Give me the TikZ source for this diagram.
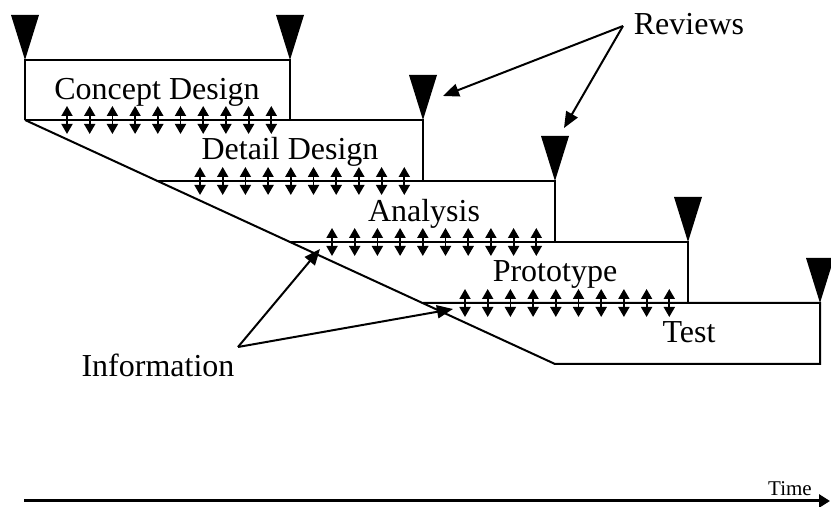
\documentclass[tikz,border=0pt]{standalone}
\usepackage{fontspec}
\setmainfont{Liberation Serif}
\usetikzlibrary{arrows.meta}
\begin{document}
\begin{tikzpicture}[x=0.5pt,y=-0.5pt,
  outline/.style={line width=1pt, line join=miter},
  review/.style={fill=black},
  exchange/.style={line width=0.9pt,
    {Triangle[length=5pt,width=5.5pt]}-{Triangle[length=5pt,width=5.5pt]}},
  pointer/.style={line width=1pt, -{Triangle[length=8pt,width=6.5pt]}},
  phase/.style={font=\fontsize{16}{19}\selectfont, inner sep=0pt, anchor=base},
  timeaxis/.style={line width=1.5pt, -{Triangle[length=5.5pt,width=6.5pt]}}]
  \useasboundingbox (0,0) rectangle (831,507);

  % staircase of overlapping phases
  \draw[outline] (25,120) -- (25,60) -- (290,60) -- (290,120);
  \draw[outline] (25,120) -- (423,120) -- (423,181);
  \draw[outline] (158,181) -- (555,181) -- (555,242);
  \draw[outline] (290,242) -- (688,242) -- (688,303);
  \draw[outline] (423,303) -- (820,303) -- (820,364) -- (555,364) -- (25,120);

  % review milestones
  \foreach \x/\y in {25/60, 290/60, 423/120, 555/181, 688/242, 820/303}
    \fill[review] (\x,\y) -- (\x-14,\y-45) -- (\x+14,\y-45) -- cycle;

  % information exchange between successive phases
  \foreach \cx/\y in {25/120, 158/181, 290/242, 423/303}
    \foreach \i in {0,...,9}
      \draw[exchange] ({\cx+42+\i*22.7},\y-14) -- ({\cx+42+\i*22.7},\y+14);

  % phase names
  \node[phase] (concept) at (157,100) {Concept Design};
  \node[phase] (detail) at (290,160) {Detail Design};
  \node[phase] (analysis) at (424,222) {Analysis};
  \node[phase] (proto) at (555,282) {Prototype};
  \node[phase] (test) at (689,343) {Test};

  % callouts
  \node[phase] (reviews) at (689,35) {Reviews};
  \node[phase] (info) at (158,377) {Information};
  \coordinate (revfrom) at (623,26);
  \coordinate (revA) at (443,96);
  \coordinate (revB) at (564,128);
  \coordinate (infofrom) at (238,347);
  \coordinate (infoA) at (320,249);
  \coordinate (infoB) at (453,309);
  \draw[pointer] (revfrom) -- (revA);
  \draw[pointer] (revfrom) -- (revB);
  \draw[pointer] (infofrom) -- (infoA);
  \draw[pointer] (infofrom) -- (infoB);

  % time axis
  \coordinate (t0) at (24,501);
  \coordinate (t1) at (830,501);
  \draw[timeaxis] (t0) -- (t1);
  \node[font=\fontsize{10.5}{12}\selectfont, inner sep=0pt, anchor=base] (time) at (790,496) {Time};
\end{tikzpicture}
\end{document}
